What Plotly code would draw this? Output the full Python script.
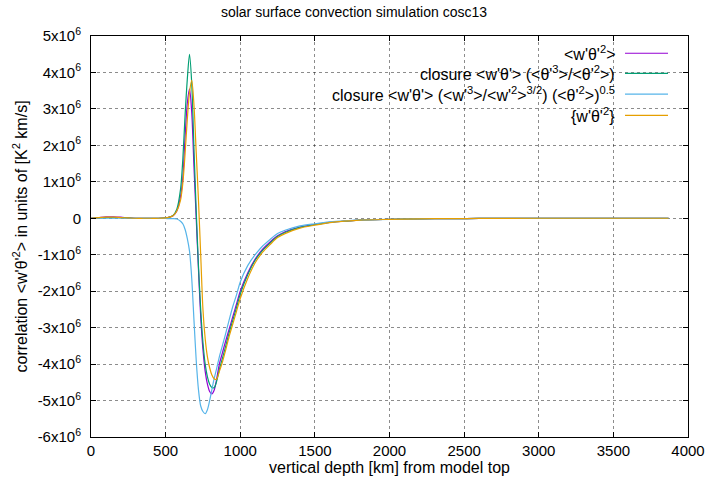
import plotly.graph_objects as go

# depth grid [km]
depth = [0, 50, 100, 150, 200, 250, 300, 350, 400, 450, 500, 525, 550, 575, 600, 615, 630, 645, 660, 675,
         690, 705, 720, 735, 750, 765, 780, 795, 810, 825, 840, 860, 880, 900, 925, 950, 975, 1000,
         1050, 1100, 1150, 1200, 1250, 1300, 1400, 1500, 1600, 1700, 1800, 2000, 2200, 2400, 2600,
         3000, 3400, 3870]

# values in units of 1e6 K^2 km/s
w_theta2 = [0, 0.02, 0.04, 0.04, 0.03, 0.01, 0, 0, 0, 0, 0.01, 0.03, 0.07, 0.2, 0.6, 1.1, 2.2, 3.15, 3.55, 2.9,
            1.4, 0.0, -1.4, -2.7, -3.6, -4.2, -4.55, -4.75, -4.82, -4.72, -4.45, -4.0, -3.7, -3.4, -3.05, -2.7, -2.35, -2.0,
            -1.5, -1.12, -0.85, -0.65, -0.48, -0.37, -0.24, -0.17, -0.11, -0.08, -0.05, -0.03, -0.015, -0.01, -0.005,
            0, 0, 0]
closure_theta = [0, 0.01, 0.02, 0.02, 0.02, 0.01, 0, 0, 0, 0, 0.01, 0.03, 0.08, 0.25, 0.8, 1.6, 2.8, 3.8, 4.5, 3.7,
                 1.9, 0.2, -1.3, -2.5, -3.4, -4.0, -4.35, -4.55, -4.64, -4.65, -4.5, -4.15, -3.85, -3.55, -3.15, -2.8, -2.45, -2.08,
                 -1.55, -1.15, -0.88, -0.68, -0.5, -0.39, -0.25, -0.17, -0.11, -0.08, -0.05, -0.03, -0.015, -0.01, -0.005,
                 0, 0, 0]
closure_w = [0, 0, 0, 0, 0, 0, 0, 0, 0, 0, -0.005, -0.01, -0.01, -0.02, -0.08, -0.15, -0.3, -0.55, -0.9, -1.65,
             -2.8, -3.9, -4.7, -5.15, -5.3, -5.36, -5.25, -5.0, -4.7, -4.4, -4.15, -3.8, -3.5, -3.2, -2.8, -2.42, -2.1, -1.75,
             -1.3, -1.0, -0.76, -0.58, -0.42, -0.33, -0.21, -0.15, -0.1, -0.07, -0.05, -0.03, -0.015, -0.01, -0.005,
             0, 0, 0]
w_theta2_curly = [0, 0.02, 0.03, 0.03, 0.02, 0.01, 0, 0, 0, 0, 0.01, 0.03, 0.07, 0.2, 0.5, 0.95, 1.75, 2.7, 3.45, 3.78,
                  3.1, 1.8, 0.5, -1.0, -2.5, -3.3, -3.8, -4.1, -4.3, -4.4, -4.42, -4.2, -3.95, -3.65, -3.25, -2.9, -2.55, -2.2,
                  -1.65, -1.22, -0.93, -0.72, -0.53, -0.42, -0.27, -0.19, -0.12, -0.08, -0.05, -0.03, -0.015, -0.01, -0.005,
                  0, 0, 0]

series_names = ["<w'θ'<sup>2</sup>>",
                "closure <w'θ'> (<θ'<sup>3</sup>>/<θ'<sup>2</sup>>)",
                "closure <w'θ'> (<w'<sup>3</sup>>/<w'<sup>2</sup>><sup>3/2</sup>) (<θ'<sup>2</sup>>)<sup>0.5</sup>",
                "{w'θ'<sup>2</sup>}"]
series_values = [w_theta2, closure_theta, closure_w, w_theta2_curly]
series_colors = ["#9400D3", "#009E73", "#56B4E9", "#E69F00"]

y_tickvals = [5, 4, 3, 2, 1, 0, -1, -2, -3, -4, -5, -6]
y_ticktext = ["0" if v == 0 else f"{v}x10<sup>6</sup>" for v in y_tickvals]
x_tickvals = [0, 500, 1000, 1500, 2000, 2500, 3000, 3500, 4000]

fig = go.Figure()
for name, vals, col in zip(series_names, series_values, series_colors):
    fig.add_trace(go.Scatter(x=depth, y=[v * 1e6 for v in vals], mode="lines", name=name,
                             line=dict(color=col, width=1.2, shape="spline", smoothing=0.8),
                             showlegend=False, hoverinfo="skip"))

font = "Liberation Sans, Arial, sans-serif"
axis_common = dict(showline=True, linecolor="black", linewidth=1, mirror="ticks", ticks="inside",
                   ticklen=5, tickcolor="black", showgrid=True, gridcolor="rgba(0,0,0,0.45)",
                   griddash="dot", gridwidth=1, zeroline=False, automargin=False,
                   tickfont=dict(size=15, color="black"))

fig.update_layout(
    width=708, height=487,
    margin=dict(l=91, r=20, t=36, b=50, autoexpand=False),
    paper_bgcolor="white", plot_bgcolor="white",
    font=dict(family=font, color="black"),
    title=dict(text="solar surface convection simulation cosc13", x=0.5, xanchor="center",
               y=0.975, yanchor="middle", font=dict(size=14)),
    xaxis=dict(range=[0, 4000], tickvals=x_tickvals, **axis_common),
    yaxis=dict(range=[-6e6, 5e6], tickvals=[v * 1e6 for v in y_tickvals], ticktext=y_ticktext,
               ticklabelstandoff=6, **axis_common),
)

# axis titles placed like gnuplot's
fig.add_annotation(xref="paper", yref="paper", x=0.5, y=-0.0773, text="vertical depth [km] from model top",
                   showarrow=False, xanchor="center", yanchor="middle", font=dict(size=16, color="black"))
fig.add_annotation(xref="paper", yref="paper", x=-0.119, y=0.5,
                   text="correlation <w'θ'<sup>2</sup>> in units of [K<sup>2</sup> km/s]", textangle=-90,
                   showarrow=False, xanchor="center", yanchor="middle", font=dict(size=16, color="black"))

# key box blanks the grid behind it (gnuplot style)
fig.add_shape(type="rect", xref="paper", yref="paper", x0=0.2395, x1=0.998, y0=0.776, y1=0.997,
              fillcolor="white", line=dict(width=0), layer="below")

legend_y = [0.957, 0.907, 0.855, 0.802]
for name, col, ly in zip(series_names, series_colors, legend_y):
    fig.add_annotation(xref="paper", yref="paper", x=0.8806, y=ly, text=name, showarrow=False,
                       xanchor="right", yanchor="middle", font=dict(size=16, color="black"))
    fig.add_shape(type="line", xref="paper", yref="paper", x0=0.8945, x1=0.9665, y0=ly, y1=ly,
                  line=dict(color=col, width=1.2))

fig.write_html("out.html", config={"displayModeBar": False},
               post_script="document.body.style.margin='0';")
